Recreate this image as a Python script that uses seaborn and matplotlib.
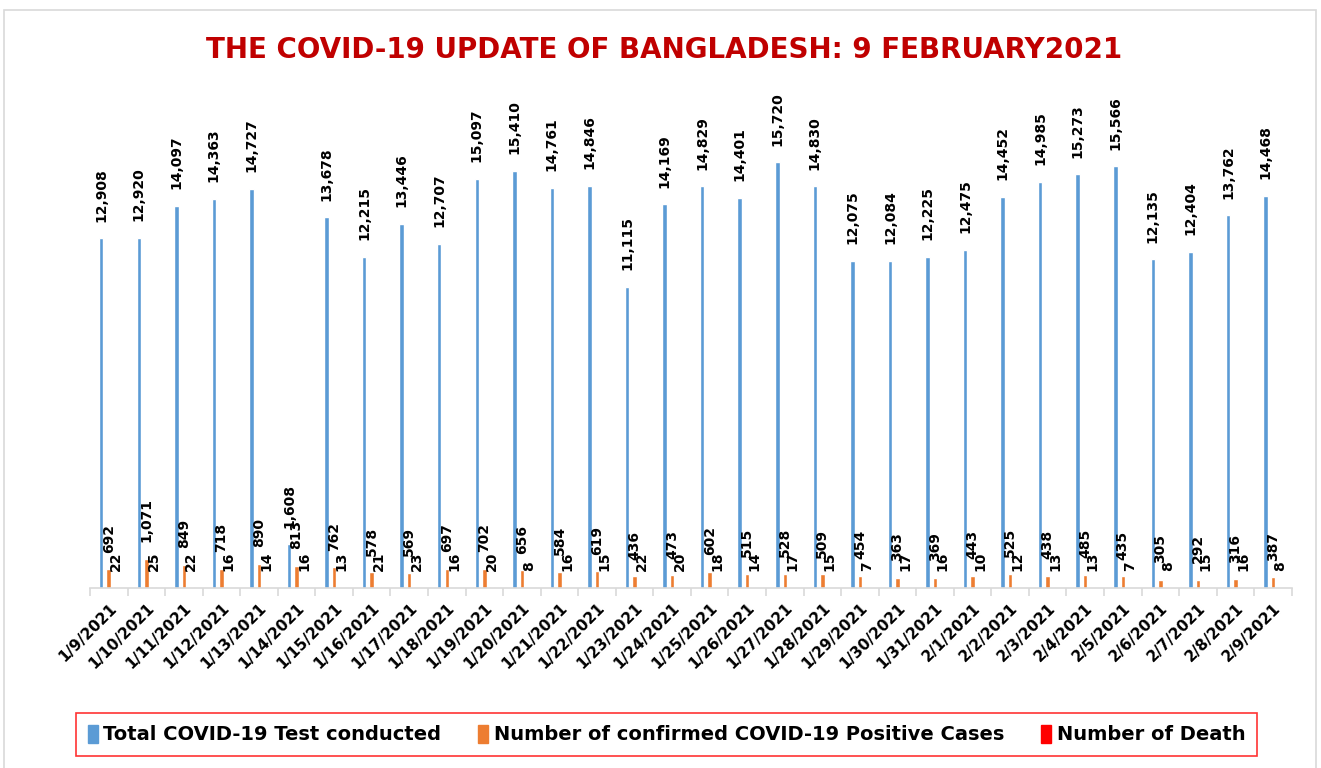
import pandas as pd
import matplotlib
matplotlib.use("Agg")
import matplotlib.pyplot as plt
import matplotlib.patches as mpatches
import seaborn as sns

sns.set_theme(style="white")
plt.rcParams['font.family'] = ['DejaVu Sans']
plt.rcParams['text.color'] = 'black'

dates = ['1/9/2021', '1/10/2021', '1/11/2021', '1/12/2021', '1/13/2021', '1/14/2021',
         '1/15/2021', '1/16/2021', '1/17/2021', '1/18/2021', '1/19/2021', '1/20/2021',
         '1/21/2021', '1/22/2021', '1/23/2021', '1/24/2021', '1/25/2021', '1/26/2021',
         '1/27/2021', '1/28/2021', '1/29/2021', '1/30/2021', '1/31/2021', '2/1/2021',
         '2/2/2021', '2/3/2021', '2/4/2021', '2/5/2021', '2/6/2021', '2/7/2021',
         '2/8/2021', '2/9/2021']
tests = [12908, 12920, 14097, 14363, 14727, 1608, 13678, 12215, 13446, 12707, 15097, 15410,
         14761, 14846, 11115, 14169, 14829, 14401, 15720, 14830, 12075, 12084, 12225, 12475,
         14452, 14985, 15273, 15566, 12135, 12404, 13762, 14468]
positives = [692, 1071, 849, 718, 890, 813, 762, 578, 569, 697, 702, 656,
             584, 619, 436, 473, 602, 515, 528, 509, 454, 363, 369, 443,
             525, 438, 485, 435, 305, 292, 316, 387]
deaths = [22, 25, 22, 16, 14, 16, 13, 21, 23, 16, 20, 8,
          16, 15, 22, 20, 18, 14, 17, 15, 7, 17, 16, 10,
          12, 13, 13, 7, 8, 15, 16, 8]
series_names = ['Total COVID-19 Test conducted',
                'Number of confirmed COVID-19 Positive Cases',
                'Number of Death']
colors = ['#5B9BD5', '#ED7D31', '#FF0000']

df = pd.DataFrame({'date': dates, series_names[0]: tests,
                   series_names[1]: positives, series_names[2]: deaths})
long_df = df.melt(id_vars='date', var_name='series', value_name='value')

fig = plt.figure(figsize=(13.21, 7.68), dpi=100)
ax = fig.add_axes([0.0681, 0.2344, 0.9098, 0.6419])

sns.barplot(data=long_df, x='date', y='value', hue='series', hue_order=series_names,
            palette=colors, width=0.6, gap=0.4, ax=ax, legend=False, saturation=1)

# value labels, rotated like the original
for cont in ax.containers:
    ax.bar_label(cont, labels=[f"{v:,.0f}" for v in cont.datavalues], rotation=90,
                 padding=12, fontsize=10, fontweight='bold', color='black')

ax.set_ylim(0, 18200)
ax.set_xlim(-0.5, len(dates) - 0.5)
ax.set_xlabel('')
ax.set_ylabel('')
ax.set_yticks([])
for s in ['left', 'top', 'right']:
    ax.spines[s].set_visible(False)
ax.spines['bottom'].set_color('#d9d9d9')
ax.spines['bottom'].set_linewidth(1.2)

ax.set_xticks(range(len(dates)))
ax.set_xticklabels(dates, rotation=45, ha='right', rotation_mode='anchor',
                   fontsize=11, fontweight='bold', color='black')
ax.tick_params(axis='x', which='major', length=0, pad=9)
ax.set_xticks([i - 0.5 for i in range(len(dates) + 1)], minor=True)
ax.tick_params(axis='x', which='minor', length=6, color='#d9d9d9', width=1.2, bottom=True)

fig.text(0.5026, 0.935, 'THE COVID-19 UPDATE OF BANGLADESH: 9 FEBRUARY2021',
         ha='center', va='center', fontsize=20, fontweight='bold', color='#C00000')

handles = [mpatches.Patch(color=c, label=n) for c, n in zip(colors, series_names)]
leg = fig.legend(handles=handles, loc='center', bbox_to_anchor=(0.5046, 0.0436), ncol=3,
                 frameon=True, fancybox=False, edgecolor='#FF0000',
                 prop={'weight': 'bold', 'size': 14},
                 handlelength=0.5, handleheight=1.1, handletextpad=0.3,
                 columnspacing=1.9, borderpad=0.6)
leg.get_frame().set_linewidth(1.2)
for t in leg.get_texts():
    t.set_color('black')

# light grey chart border
fig.patches.append(mpatches.Rectangle((0.0034, -0.01), 0.9928, 0.9976, fill=False,
                                      edgecolor='#d9d9d9', linewidth=1.2,
                                      transform=fig.transFigure, figure=fig))

fig.savefig('out.png', dpi=100, facecolor='white')
